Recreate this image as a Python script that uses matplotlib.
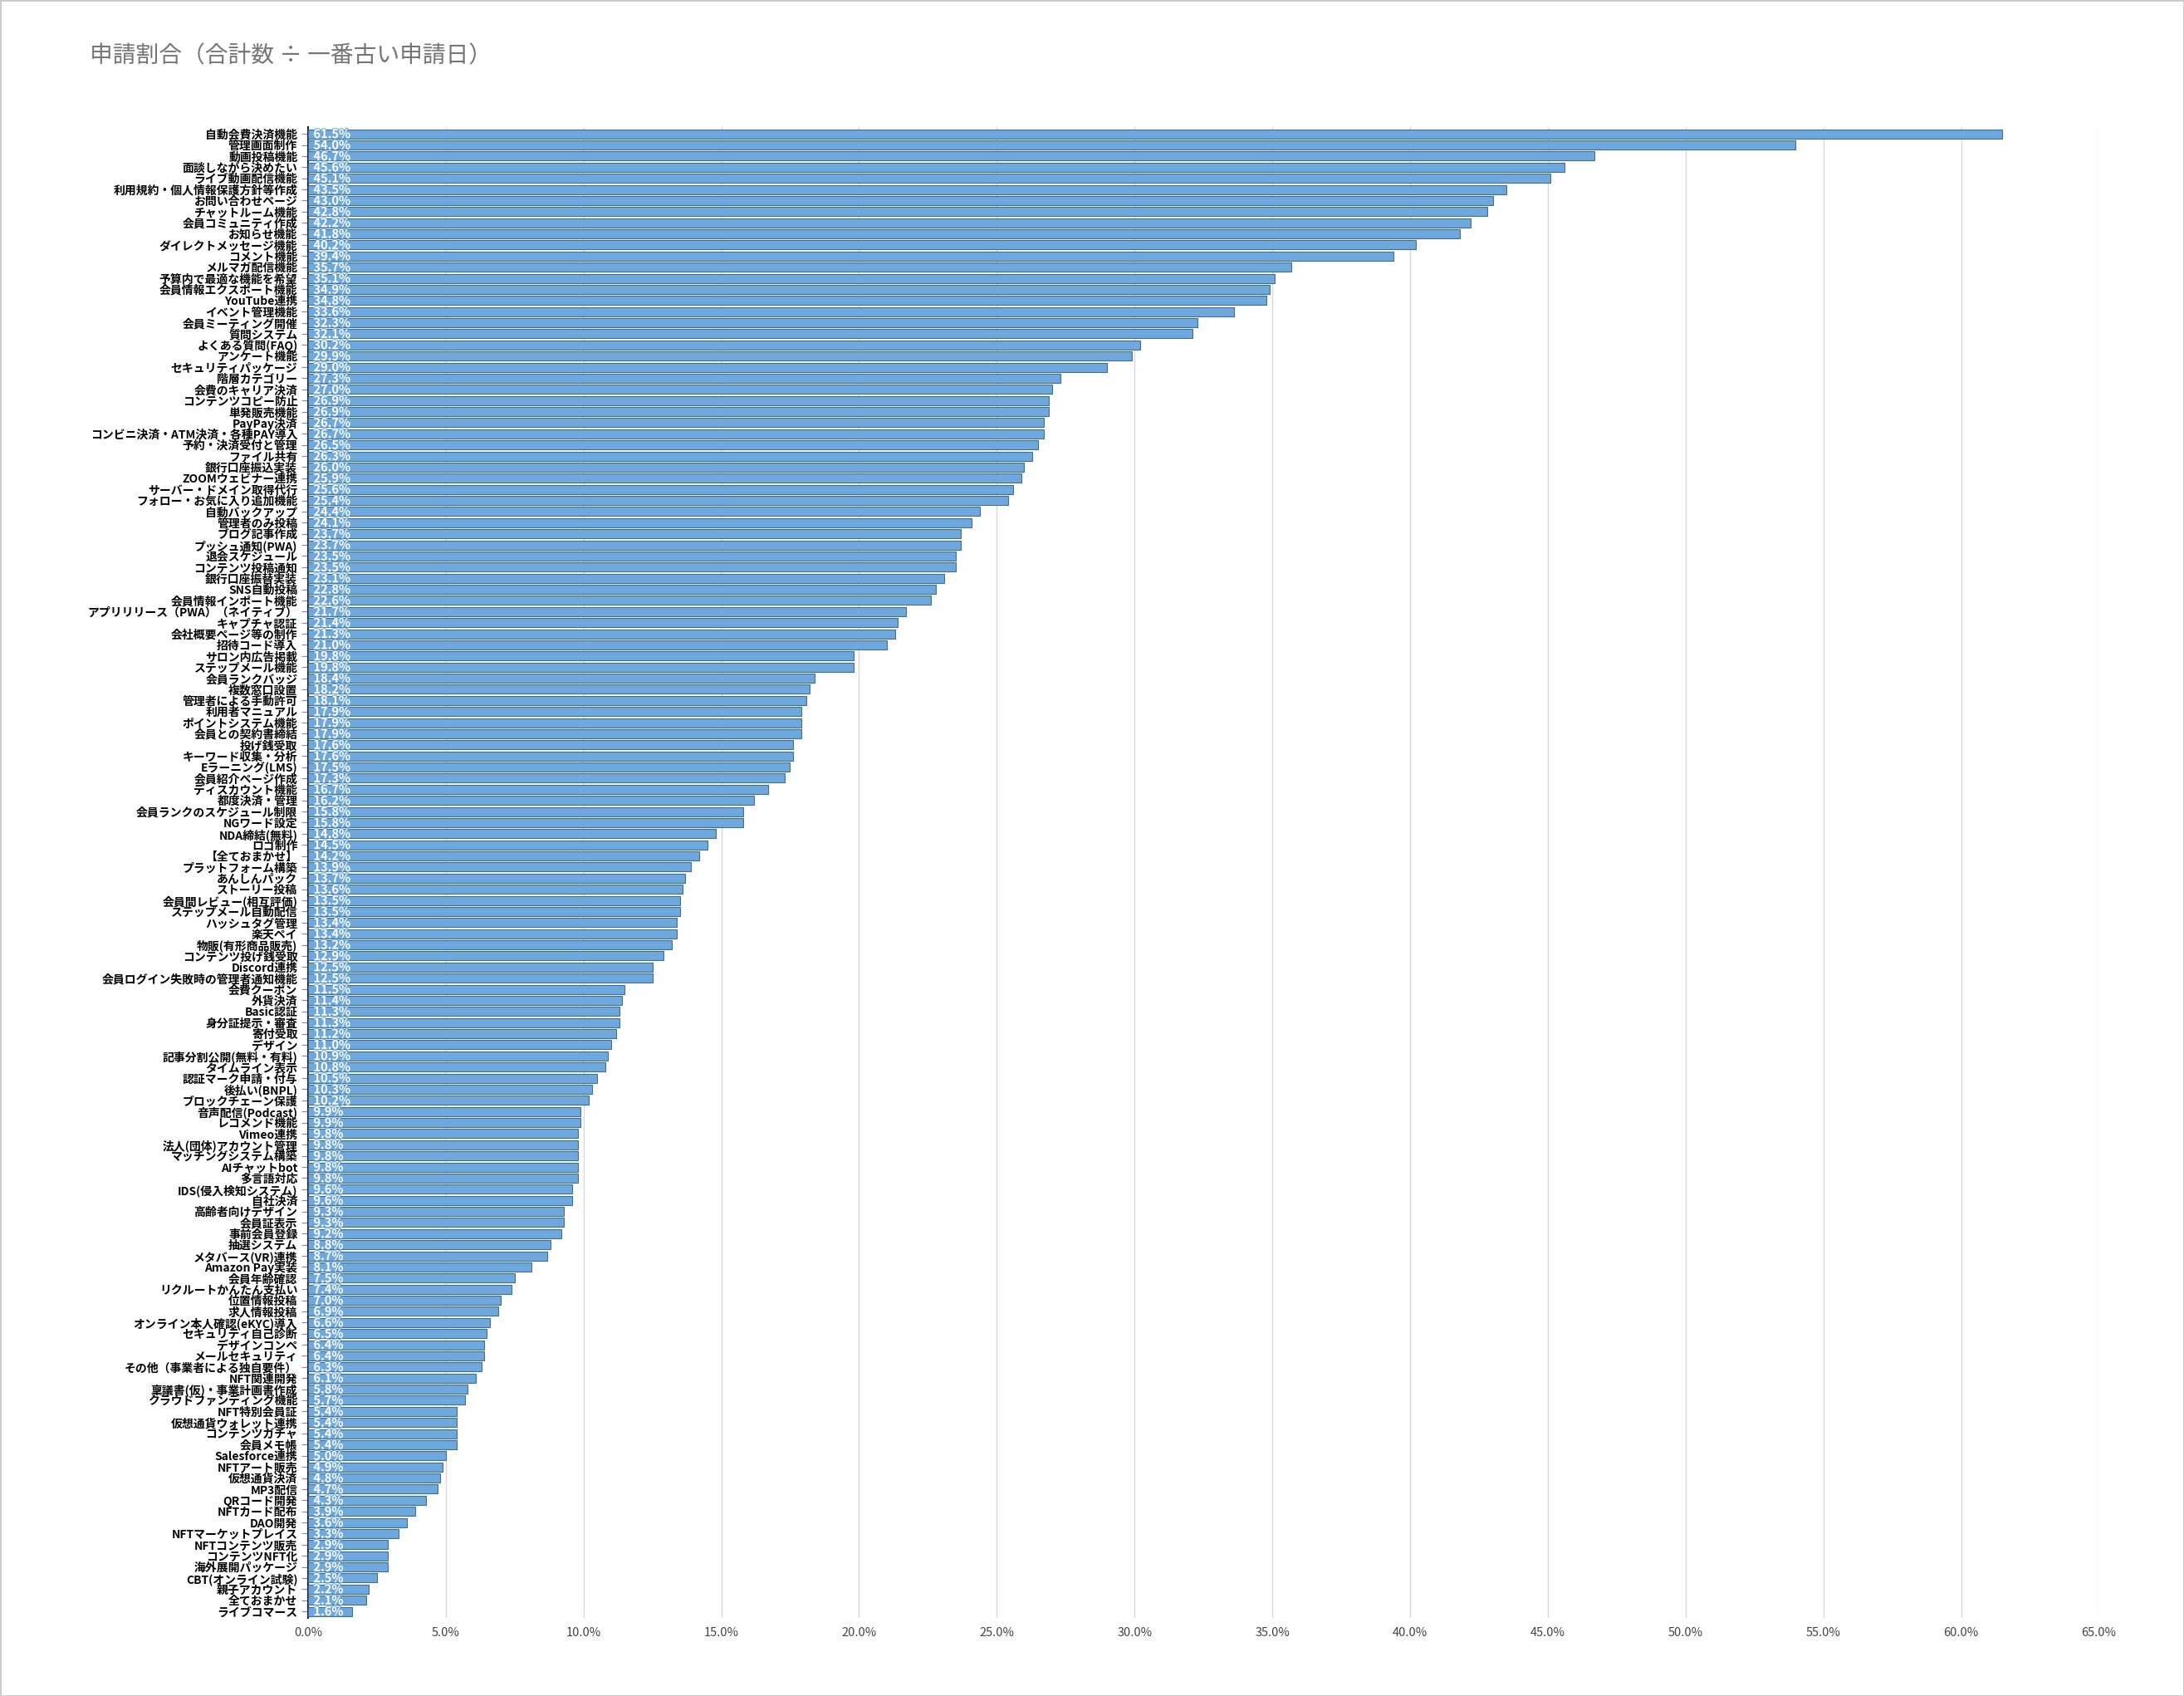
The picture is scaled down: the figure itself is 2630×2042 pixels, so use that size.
import matplotlib
matplotlib.use("Agg")
import matplotlib.pyplot as plt
import matplotlib.patheffects as pe
from matplotlib.ticker import MultipleLocator, FuncFormatter

plt.rcParams['font.family'] = ['Noto Sans CJK JP', 'DejaVu Sans']

labels = [
    "自動会費決済機能", "管理画面制作", "動画投稿機能", "面談しながら決めたい", "ライブ動画配信機能",
    "利用規約・個人情報保護方針等作成", "お問い合わせページ", "チャットルーム機能", "会員コミュニティ作成", "お知らせ機能",
    "ダイレクトメッセージ機能", "コメント機能", "メルマガ配信機能", "予算内で最適な機能を希望", "会員情報エクスポート機能",
    "YouTube連携", "イベント管理機能", "会員ミーティング開催", "質問システム", "よくある質問(FAQ)",
    "アンケート機能", "セキュリティパッケージ", "階層カテゴリー", "会費のキャリア決済", "コンテンツコピー防止",
    "単発販売機能", "PayPay決済", "コンビニ決済・ATM決済・各種PAY導入", "予約・決済受付と管理", "ファイル共有",
    "銀行口座振込実装", "ZOOMウェビナー連携", "サーバー・ドメイン取得代行", "フォロー・お気に入り追加機能", "自動バックアップ",
    "管理者のみ投稿", "ブログ記事作成", "プッシュ通知(PWA)", "退会スケジュール", "コンテンツ投稿通知",
    "銀行口座振替実装", "SNS自動投稿", "会員情報インポート機能", "アプリリリース（PWA）（ネイティブ）", "キャプチャ認証",
    "会社概要ページ等の制作", "招待コード導入", "サロン内広告掲載", "ステップメール機能", "会員ランクバッジ",
    "複数窓口設置", "管理者による手動許可", "利用者マニュアル", "ポイントシステム機能", "会員との契約書締結",
    "投げ銭受取", "キーワード収集・分析", "Eラーニング(LMS)", "会員紹介ページ作成", "ディスカウント機能",
    "都度決済・管理", "会員ランクのスケジュール制限", "NGワード設定", "NDA締結(無料)", "ロゴ制作",
    "【全ておまかせ】", "プラットフォーム構築", "あんしんパック", "ストーリー投稿", "会員間レビュー(相互評価)",
    "ステップメール自動配信", "ハッシュタグ管理", "楽天ペイ", "物販(有形商品販売)", "コンテンツ投げ銭受取",
    "Discord連携", "会員ログイン失敗時の管理者通知機能", "会費クーポン", "外貨決済", "Basic認証",
    "身分証提示・審査", "寄付受取", "デザイン", "記事分割公開(無料・有料)", "タイムライン表示",
    "認証マーク申請・付与", "後払い(BNPL)", "ブロックチェーン保護", "音声配信(Podcast)", "レコメンド機能",
    "Vimeo連携", "法人(団体)アカウント管理", "マッチングシステム構築", "AIチャットbot", "多言語対応",
    "IDS(侵入検知システム)", "自社決済", "高齢者向けデザイン", "会員証表示", "事前会員登録",
    "抽選システム", "メタバース(VR)連携", "Amazon Pay実装", "会員年齢確認", "リクルートかんたん支払い",
    "位置情報投稿", "求人情報投稿", "オンライン本人確認(eKYC)導入", "セキュリティ自己診断", "デザインコンペ",
    "メールセキュリティ", "その他（事業者による独自要件）", "NFT関連開発", "稟議書(仮)・事業計画書作成", "クラウドファンディング機能",
    "NFT特別会員証", "仮想通貨ウォレット連携", "コンテンツガチャ", "会員メモ帳", "Salesforce連携",
    "NFTアート販売", "仮想通貨決済", "MP3配信", "QRコード開発", "NFTカード配布",
    "DAO開発", "NFTマーケットプレイス", "NFTコンテンツ販売", "コンテンツNFT化", "海外展開パッケージ",
    "CBT(オンライン試験)", "親子アカウント", "全ておまかせ", "ライブコマース",
]
values = [
    61.5, 54.0, 46.7, 45.6, 45.1, 43.5, 43.0, 42.8, 42.2, 41.8,
    40.2, 39.4, 35.7, 35.1, 34.9, 34.8, 33.6, 32.3, 32.1, 30.2,
    29.9, 29.0, 27.3, 27.0, 26.9, 26.9, 26.7, 26.7, 26.5, 26.3,
    26.0, 25.9, 25.6, 25.4, 24.4, 24.1, 23.7, 23.7, 23.5, 23.5,
    23.1, 22.8, 22.6, 21.7, 21.4, 21.3, 21.0, 19.8, 19.8, 18.4,
    18.2, 18.1, 17.9, 17.9, 17.9, 17.6, 17.6, 17.5, 17.3, 16.7,
    16.2, 15.8, 15.8, 14.8, 14.5, 14.2, 13.9, 13.7, 13.6, 13.5,
    13.5, 13.4, 13.4, 13.2, 12.9, 12.5, 12.5, 11.5, 11.4, 11.3,
    11.3, 11.2, 11.0, 10.9, 10.8, 10.5, 10.3, 10.2, 9.9, 9.9,
    9.8, 9.8, 9.8, 9.8, 9.8, 9.6, 9.6, 9.3, 9.3, 9.2,
    8.8, 8.7, 8.1, 7.5, 7.4, 7.0, 6.9, 6.6, 6.5, 6.4,
    6.4, 6.3, 6.1, 5.8, 5.7, 5.4, 5.4, 5.4, 5.4, 5.0,
    4.9, 4.8, 4.7, 4.3, 3.9, 3.6, 3.3, 2.9, 2.9, 2.9,
    2.5, 2.2, 2.1, 1.6,
]

fig = plt.figure(figsize=(26.3, 20.42), dpi=100)
fig.patch.set_edgecolor('#cccccc')
fig.patch.set_linewidth(2)
ax = fig.add_axes([0.141, 0.046, 0.82, 0.879])

ypos = list(range(len(values)))
ax.barh(ypos, values, height=0.82, color='#6fa8dc', edgecolor='#3d6d99', linewidth=0.8, zorder=3)

for y, v in zip(ypos, values):
    ax.text(0.2, y, f"{v:.1f}%", va='center', ha='left', fontsize=10.5, fontweight='bold',
            color='white', zorder=4,
            path_effects=[pe.withStroke(linewidth=1.5, foreground='#6fa8dc')])

ax.set_yticks(ypos)
ax.set_yticklabels(labels, fontsize=10, fontweight='bold')
ax.tick_params(axis='y', length=6, color='#c0709a', pad=3)
ax.set_ylim(len(values) - 0.4, -0.6)

ax.set_xlim(0, 65)
ax.xaxis.set_major_locator(MultipleLocator(5))
ax.xaxis.set_major_formatter(FuncFormatter(lambda x, _: f"{x:.1f}%"))
ax.tick_params(axis='x', length=0, labelsize=10.5, labelcolor='#444444', pad=8)
ax.grid(axis='x', color='#d9d9d9', linewidth=1, zorder=0)

for s in ['top', 'right', 'bottom']:
    ax.spines[s].set_visible(False)
ax.spines['left'].set_color('#222222')
ax.spines['left'].set_linewidth(1.5)

fig.text(0.041, 0.967, "申請割合（合計数 ÷ 一番古い申請日）", fontsize=20, color='#757575', va='center')

fig.savefig("out.png", dpi=100, edgecolor=fig.get_edgecolor())
